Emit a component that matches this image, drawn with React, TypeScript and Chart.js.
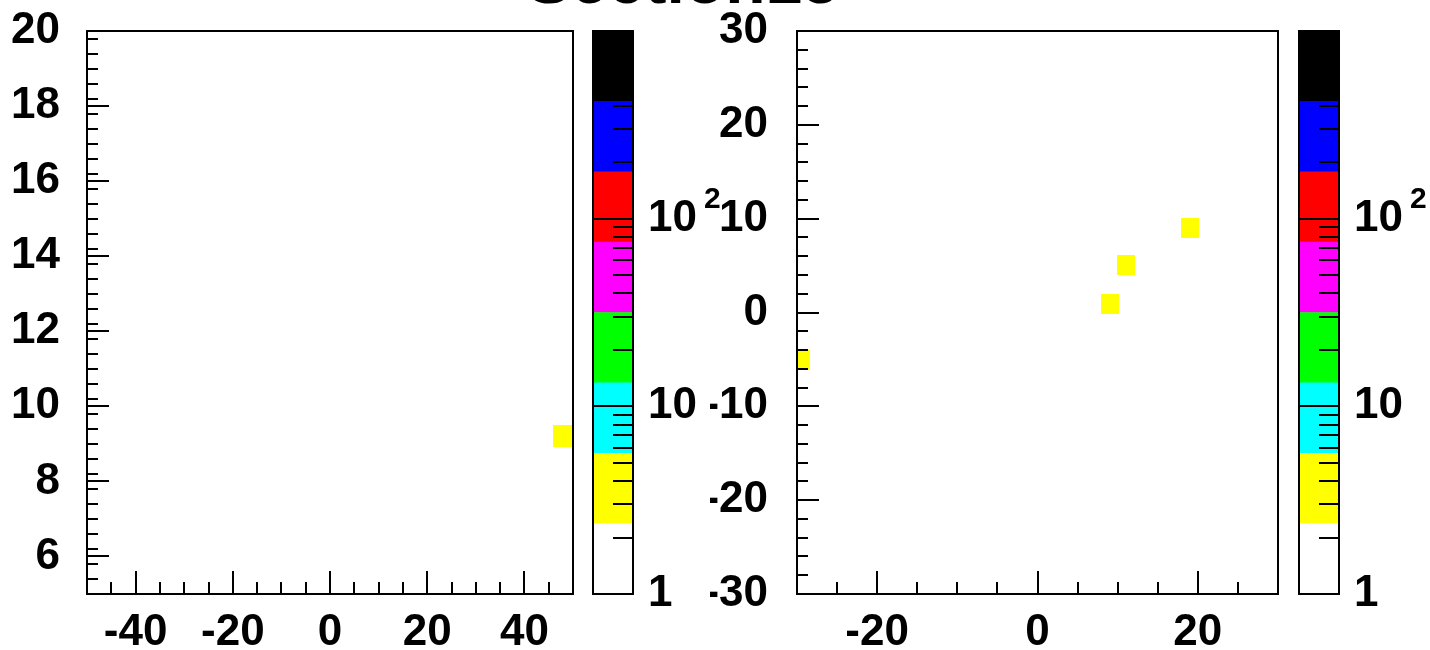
import React, { useEffect, useRef } from "react";
import { Chart, registerables } from "chart.js";
Chart.register(...registerables);

const TITLE = "Section15";

const LEFT_X_MIN = -50;
const LEFT_X_MAX = 50;
const LEFT_Y_MIN = 5;
const LEFT_Y_MAX = 20;
const LEFT_X_TICKS = [-40, -20, 0, 20, 40];
const LEFT_X_MINOR = [-45, -35, -30, -25, -15, -10, -5, 5, 10, 15, 25, 30, 35, 45];
const LEFT_Y_TICKS = [6, 8, 10, 12, 14, 16, 18, 20];
const LEFT_Y_MINOR_STEP = 0.4;
const LEFT_PX = [48];
const LEFT_PY = [9.2];

const RIGHT_X_MIN = -30;
const RIGHT_X_MAX = 30;
const RIGHT_Y_MIN = -30;
const RIGHT_Y_MAX = 30;
const RIGHT_X_TICKS = [-20, 0, 20];
const RIGHT_X_MINOR = [-25, -15, -10, -5, 5, 10, 15, 25];
const RIGHT_Y_TICKS = [-30, -20, -10, 0, 10, 20, 30];
const RIGHT_Y_MINOR_STEP = 2;
const RIGHT_PX = [19, 11, 9, -29.5];
const RIGHT_PY = [9, 5.1, 0.9, -5.1];

const Z_MIN = 1;
const Z_MAX = 1000;
const Z_TICKS = [1, 10, 100];
const Z_TICK_LABELS = ["1", "10", "10"];
const Z_EXPONENTS = ["", "", "2"];
const Z_MINOR = [2, 3, 4, 5, 6, 7, 8, 9, 20, 30, 40, 50, 60, 70, 80, 90, 200, 300, 400, 500, 600, 700, 800, 900];
const Z_MAJOR_LINES = [10, 100];
const PALETTE_LEVELS = [1, 2.371, 5.623, 13.34, 31.62, 74.99, 177.8, 421.7, 1000];
const PALETTE_COLORS = ["#ffffff", "#ffff00", "#00ffff", "#00ff00", "#ff00ff", "#ff0000", "#0000ff", "#000000"];

const FONT_FAMILY = '"Liberation Sans", Arial, Helvetica, sans-serif';
const LABEL_FONT = { family: FONT_FAMILY, size: 44, weight: "bold" as const };

function minorFrom(min: number, max: number, step: number, majorStep: number) {
  const out: number[] = [];
  const n = Math.round((max - min) / step);
  for (let i = 1; i < n; i++) {
    const v = min + i * step;
    const r = v / majorStep;
    if (Math.abs(r - Math.round(r)) > 1e-6) out.push(v);
  }
  return out;
}

const zeroPad = (s: any) => {
  s.paddingTop = 0;
  s.paddingBottom = 0;
  s.paddingLeft = 0;
  s.paddingRight = 0;
};

const panelPlugin = {
  id: "rootPanel",
  afterDatasetsDraw(chart: any, _args: any, opts: any) {
    const { ctx, chartArea: a, scales } = chart;
    const xs = scales.x;
    const ys = scales.y;
    ctx.save();
    ctx.strokeStyle = "#000";
    ctx.lineWidth = 2;
    ctx.beginPath();
    const xt = (v: number, len: number) => {
      const p = Math.round(xs.getPixelForValue(v));
      ctx.moveTo(p, a.bottom);
      ctx.lineTo(p, a.bottom - len);
    };
    const yt = (v: number, len: number) => {
      const p = Math.round(ys.getPixelForValue(v));
      ctx.moveTo(a.left, p);
      ctx.lineTo(a.left + len, p);
    };
    opts.xMajor.forEach((v: number) => xt(v, 23));
    opts.xMinor.forEach((v: number) => xt(v, 12));
    opts.yMajor.forEach((v: number) => yt(v, 22));
    opts.yMinor.forEach((v: number) => yt(v, 11));
    ctx.stroke();
    ctx.strokeRect(a.left, a.top, a.right - a.left, a.bottom - a.top);
    ctx.restore();
  },
};

const palettePlugin = {
  id: "rootPalette",
  afterDatasetsDraw(chart: any) {
    const { ctx, chartArea: a, scales } = chart;
    const ys = scales.y;
    ctx.save();
    ctx.strokeStyle = "#000";
    ctx.lineWidth = 2;
    ctx.beginPath();
    Z_MINOR.forEach((v) => {
      const p = Math.round(ys.getPixelForValue(v));
      ctx.moveTo(a.right, p);
      ctx.lineTo(a.right - 20, p);
    });
    Z_MAJOR_LINES.forEach((v) => {
      const p = Math.round(ys.getPixelForValue(v));
      ctx.moveTo(a.right, p);
      ctx.lineTo(a.left, p);
    });
    ctx.stroke();
    ctx.strokeRect(a.left, a.top, a.right - a.left, a.bottom - a.top);
    ctx.restore();
  },
  afterDraw(chart: any) {
    const { ctx, chartArea: a, scales } = chart;
    const ys = scales.y;
    ctx.save();
    ctx.fillStyle = "#000";
    Z_TICKS.forEach((v, i) => {
      const ex = Z_EXPONENTS[i];
      if (!ex) return;
      ctx.font = `bold 44px ${FONT_FAMILY}`;
      const w = ctx.measureText(Z_TICK_LABELS[i]).width;
      ctx.font = `bold 30px ${FONT_FAMILY}`;
      ctx.textBaseline = "middle";
      ctx.textAlign = "left";
      ctx.fillText(ex, a.right + 15 + w + 7, ys.getPixelForValue(v) - 19);
    });
    ctx.restore();
  },
};

function makeBox(w: number, h: number) {
  const c = document.createElement("canvas");
  c.width = w;
  c.height = h;
  const g = c.getContext("2d")!;
  g.fillStyle = "#ffff00";
  g.fillRect(0, 0, w, h);
  return c;
}

type PanelProps = {
  left: number;
  width: number;
  yWidth: number;
  padRight: number;
  xMin: number;
  xMax: number;
  yMin: number;
  yMax: number;
  xTicks: number[];
  xMinor: number[];
  yTicks: number[];
  yMinor: number[];
  px: number[];
  py: number[];
  boxW: number;
  boxH: number;
  yPad: number;
};

function Panel(p: PanelProps) {
  const ref = useRef<HTMLCanvasElement>(null);
  useEffect(() => {
    const box = makeBox(p.boxW, p.boxH);
    const chart = new Chart(ref.current!, {
      type: "scatter",
      data: {
        datasets: [
          {
            data: p.px.map((x, i) => ({ x, y: p.py[i] })),
            pointStyle: box as any,
            pointRadius: 10,
            borderWidth: 0,
            clip: 0 as any,
          },
        ],
      },
      options: {
        animation: false,
        responsive: false,
        events: [],
        layout: { autoPadding: false, padding: { top: 31, right: p.padRight, left: 0, bottom: 0 } },
        plugins: {
          legend: { display: false },
          tooltip: { enabled: false },
          rootPanel: { xMajor: p.xTicks, xMinor: p.xMinor, yMajor: p.yTicks, yMinor: p.yMinor },
        } as any,
        scales: {
          x: {
            type: "linear",
            min: p.xMin,
            max: p.xMax,
            grid: { display: false, drawTicks: false },
            border: { display: false },
            afterBuildTicks: (s: any) => {
              s.ticks = p.xTicks.map((v) => ({ value: v }));
            },
            afterFit: (s: any) => {
              s.height = 56;
              zeroPad(s);
            },
            ticks: {
              font: LABEL_FONT,
              color: "#000",
              padding: 12,
              maxRotation: 0,
              autoSkip: false,
              callback: (v: any) => String(v),
            },
          },
          y: {
            type: "linear",
            min: p.yMin,
            max: p.yMax,
            grid: { display: false, drawTicks: false },
            border: { display: false },
            afterBuildTicks: (s: any) => {
              s.ticks = p.yTicks.map((v) => ({ value: v }));
            },
            afterFit: (s: any) => {
              s.width = p.yWidth;
              zeroPad(s);
            },
            ticks: {
              font: LABEL_FONT,
              color: "#000",
              padding: p.yPad,
              autoSkip: false,
              callback: (v: any) => String(v),
            },
          },
        },
      },
      plugins: [panelPlugin],
    });
    return () => chart.destroy();
  }, []);
  return (
    <canvas
      ref={ref}
      width={p.width}
      height={650}
      style={{ position: "absolute", left: p.left, top: 0, width: p.width, height: 650 }}
    />
  );
}

function Palette({ left, width }: { left: number; width: number }) {
  const ref = useRef<HTMLCanvasElement>(null);
  useEffect(() => {
    const chart = new Chart(ref.current!, {
      type: "bar",
      data: {
        labels: ["z"],
        datasets: PALETTE_COLORS.map((c, i) => ({
          data: [[PALETTE_LEVELS[i], PALETTE_LEVELS[i + 1]]] as any,
          backgroundColor: c,
          borderWidth: 0,
          grouped: false,
          barPercentage: 1,
          categoryPercentage: 1,
        })),
      },
      options: {
        animation: false,
        responsive: false,
        events: [],
        layout: { autoPadding: false, padding: { top: 31, left: 33, right: 0, bottom: 56 } },
        plugins: { legend: { display: false }, tooltip: { enabled: false } },
        scales: {
          x: { type: "category", display: false },
          y: {
            type: "logarithmic",
            position: "right",
            min: Z_MIN,
            max: Z_MAX,
            grid: { display: false, drawTicks: false },
            border: { display: false },
            afterBuildTicks: (s: any) => {
              s.ticks = Z_TICKS.map((v) => ({ value: v }));
            },
            afterFit: (s: any) => {
              s.width = width - 73;
              zeroPad(s);
            },
            ticks: {
              font: LABEL_FONT,
              color: "#000",
              padding: 15,
              autoSkip: false,
              callback: (_v: any, i: number) => Z_TICK_LABELS[i],
            },
          },
        },
      },
      plugins: [palettePlugin],
    });
    return () => chart.destroy();
  }, []);
  return (
    <canvas
      ref={ref}
      width={width}
      height={650}
      style={{ position: "absolute", left, top: 0, width, height: 650 }}
    />
  );
}

export default function App() {
  return (
    <div style={{ position: "absolute", left: 0, top: 0, width: 1430, height: 650, overflow: "hidden", background: "#fff" }}>
      <div
        style={{
          position: "absolute",
          left: 683,
          top: -53,
          transform: "translateX(-50%)",
          font: `bold 66px ${FONT_FAMILY}`,
          lineHeight: "66px",
          whiteSpace: "nowrap",
          color: "#000",
        }}
      >
        {TITLE}
      </div>
      <Panel
        left={0}
        width={580}
        yWidth={87}
        padRight={7}
        xMin={LEFT_X_MIN}
        xMax={LEFT_X_MAX}
        yMin={LEFT_Y_MIN}
        yMax={LEFT_Y_MAX}
        xTicks={LEFT_X_TICKS}
        xMinor={LEFT_X_MINOR}
        yTicks={LEFT_Y_TICKS}
        yMinor={minorFrom(LEFT_Y_MIN, LEFT_Y_MAX, LEFT_Y_MINOR_STEP, 2)}
        px={LEFT_PX}
        py={LEFT_PY}
        boxW={20}
        boxH={22}
        yPad={27}
      />
      <Palette left={560} width={170} />
      <Panel
        left={710}
        width={580}
        yWidth={87}
        padRight={12}
        xMin={RIGHT_X_MIN}
        xMax={RIGHT_X_MAX}
        yMin={RIGHT_Y_MIN}
        yMax={RIGHT_Y_MAX}
        xTicks={RIGHT_X_TICKS}
        xMinor={RIGHT_X_MINOR}
        yTicks={RIGHT_Y_TICKS}
        yMinor={minorFrom(RIGHT_Y_MIN, RIGHT_Y_MAX, RIGHT_Y_MINOR_STEP, 10)}
        px={RIGHT_PX}
        py={RIGHT_PY}
        boxW={18}
        boxH={20}
        yPad={29}
      />
      <Palette left={1266} width={164} />
    </div>
  );
}
